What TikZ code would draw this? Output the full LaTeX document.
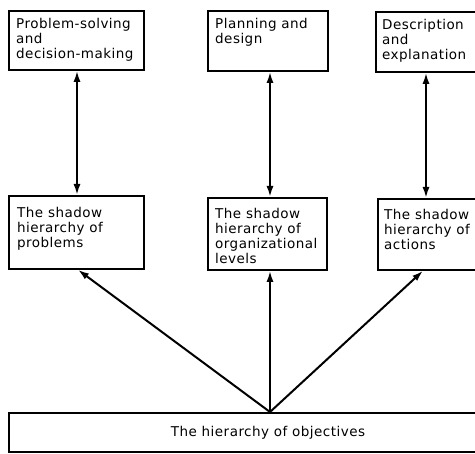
\documentclass[tikz,border=0pt]{standalone}
\usepackage{fontspec}
\setmainfont{DejaVu Sans}[LetterSpace=3.5]
\usetikzlibrary{arrows.meta}
\begin{document}
\begin{tikzpicture}[x=1pt,y=-1pt,
  box/.style={draw,line width=1.8pt,inner sep=0pt,anchor=north west},
  txt/.style={anchor=north west,inner sep=0pt,align=left,font=\fontsize{13.5}{15}\selectfont},
  link/.style={line width=2pt,-{Latex[length=11pt,width=7pt]}},
  dlink/.style={line width=2pt,{Latex[length=11pt,width=7pt]}-{Latex[length=11pt,width=7pt]}}]
\useasboundingbox (0,0) rectangle (475,454);
\clip (0,0) rectangle (475,454);
% top row
\node[box,minimum width=135pt,minimum height=59pt] (t1) at (8,10) {};
\node[box,minimum width=120pt,minimum height=60pt] (t2) at (207,10) {};
\node[box,minimum width=140pt,minimum height=60pt] (t3) at (375,11) {};
% middle row
\node[box,minimum width=135pt,minimum height=73pt] (m1) at (8,195) {};
\node[box,minimum width=119pt,minimum height=72pt] (m2) at (207,197) {};
\node[box,minimum width=140pt,minimum height=71pt] (m3) at (377,198) {};
% bottom
\node[box,minimum width=520pt,minimum height=39pt] (b) at (8,412) {};
% texts
\node[txt] (x1) at ([shift={(8,8)}]t1.north west) {Problem-solving\\and\\decision-making};
\node[txt] (x2) at ([shift={(8,8)}]t2.north west) {Planning and\\design};
\node[txt] (x3) at ([shift={(7,8)}]t3.north west) {Description\\and\\explanation};
\node[txt] (y1) at ([shift={(9,12)}]m1.north west) {The shadow\\hierarchy of\\problems};
\node[txt] (y2) at ([shift={(8,11)}]m2.north west) {The shadow\\hierarchy of\\organizational\\levels};
\node[txt] (y3) at ([shift={(7,11)}]m3.north west) {The shadow\\hierarchy of\\actions};
\node[anchor=center,inner sep=0pt,font=\fontsize{13.5}{15}\selectfont] (bt) at (268,433) {The hierarchy of objectives};
% connectors
\coordinate (apex) at (270,412);
\draw[dlink] (t1.south west -| 77,0) -- (m1.north west -| 77,0);
\draw[dlink] (t2.south west -| 270,0) -- (m2.north west -| 270,0);
\draw[dlink] (t3.south west -| 426,0) -- (m3.north west -| 426,0);
\draw[link] (apex) -- (m1.south west -| 78,0);
\draw[link] (apex) -- (m2.south west -| 270,0);
\draw[link] (apex) -- (m3.south west -| 423,0);
\end{tikzpicture}
\end{document}
